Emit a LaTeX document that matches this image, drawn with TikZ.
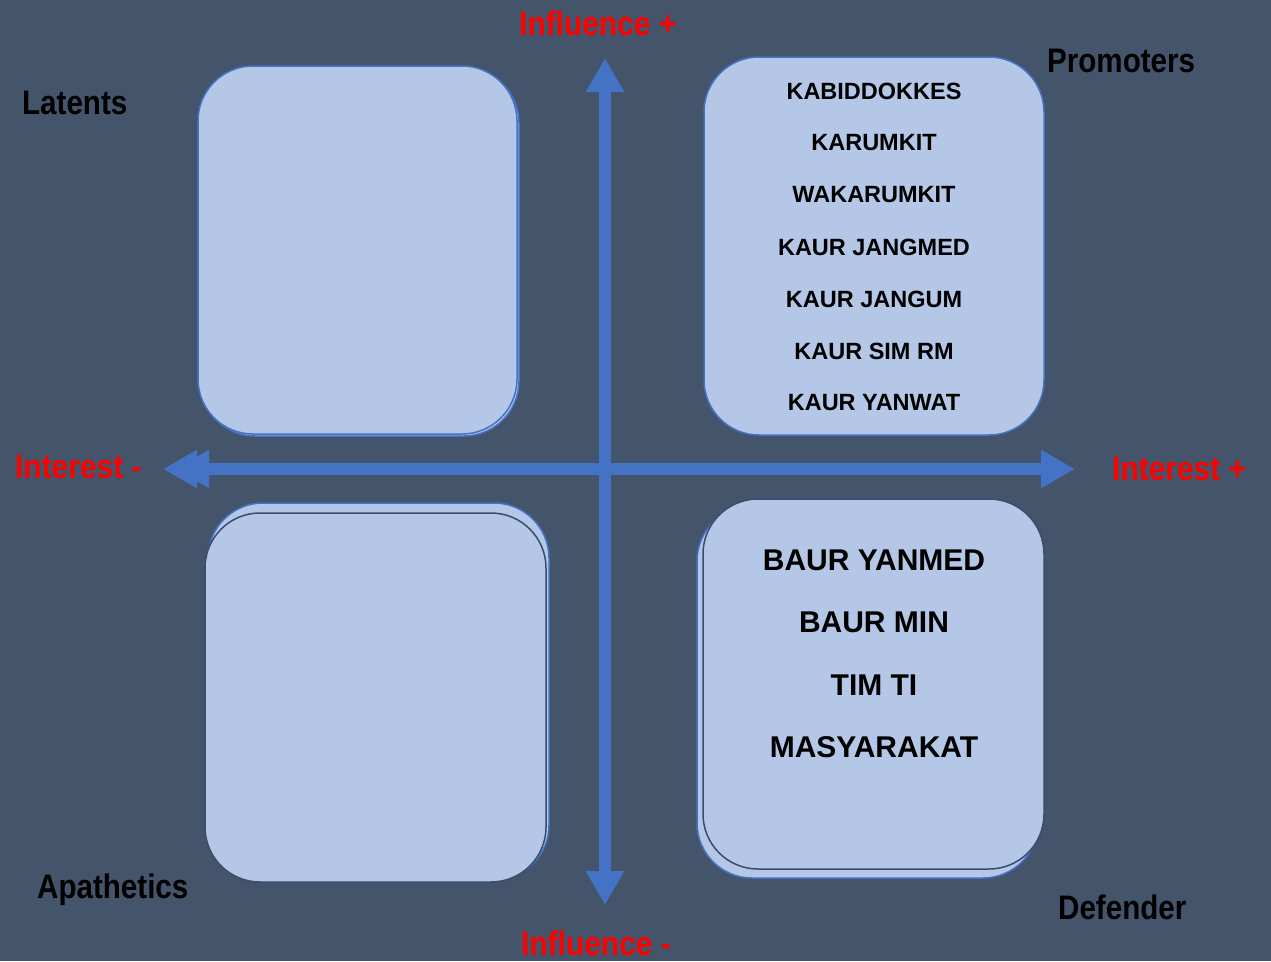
\documentclass[tikz,border=0pt]{standalone}
\usepackage{fontspec}
\setmainfont{Liberation Sans}
\usetikzlibrary{arrows.meta}
\definecolor{bgc}{HTML}{44546A}
\definecolor{boxfill}{HTML}{B4C7E7}
\definecolor{boxedge}{HTML}{4472C4}
\definecolor{inneredge}{HTML}{3B4D6E}
\definecolor{arrowc}{HTML}{4472C4}
\definecolor{redc}{HTML}{FF0000}
\tikzset{
  quadbox/.style={fill=boxfill, draw=boxedge, line width=1.5pt, rounded corners=55pt},
  innerbox/.style={fill=boxfill, draw=inneredge, line width=1.5pt, rounded corners=55pt},
  axis/.style={draw=arrowc, line width=12pt, -{Triangle[length=34pt,width=36pt]}},
  axistwo/.style={draw=arrowc, line width=12pt, {Triangle[length=34pt,width=36pt]}-{Triangle[length=34pt,width=36pt]}},
  redlab/.style={text=redc, font=\bfseries\fontsize{34}{34}\selectfont, inner sep=0pt, xscale=0.88},
  cornerlab/.style={text=black, font=\bfseries\fontsize{34}{34}\selectfont, inner sep=0pt, xscale=0.87},
  smalltxt/.style={text=black, font=\bfseries\fontsize{23.5}{24}\selectfont, inner sep=0pt},
  bigtxt/.style={text=black, font=\bfseries\fontsize{30}{30}\selectfont, inner sep=0pt}
}
\begin{document}
\begin{tikzpicture}[x=1pt,y=-1pt]
\fill[bgc] (0,0) rectangle (1271,961);
\useasboundingbox (0,0) rectangle (1271,961);

% boxes
\draw[quadbox] (200,68) rectangle (519,436);
\draw[quadbox] (198,66) rectangle (517,434);
\draw[quadbox] (704,57) rectangle (1044,435);
\draw[quadbox] (208,503) rectangle (549,880);
\draw[innerbox] (205,513) rectangle (546,882);
\draw[quadbox] (697,506) rectangle (1038,878);
\draw[innerbox] (703,499) rectangle (1044,869);

% axes
\coordinate (vtop) at (605,58);
\coordinate (vbot) at (605,905);
\coordinate (hleft) at (175,469);
\coordinate (hleftb) at (163,469);
\coordinate (hleftc) at (210,469);
\coordinate (hright) at (1075,469);
\draw[axistwo] (vbot) -- (vtop);
\draw[axistwo] (hleft) -- (hright);
\draw[axis] (hleftc) -- (hleftb);

% axis labels
\node[redlab, anchor=west] (infp) at (519,23) {Influence +};
\node[redlab, anchor=west] (infm) at (521,943) {Influence -};
\node[redlab, anchor=west] (intm) at (15,467) {Interest -};
\node[redlab, anchor=west] (intp) at (1112,469) {Interest +};

% corner labels
\node[cornerlab, anchor=west] (lat) at (22,103) {Latents};
\node[cornerlab, anchor=west] (pro) at (1047,61) {Promoters};
\node[cornerlab, anchor=west] (apa) at (37,890) {Apathetics};
\node[cornerlab, anchor=west] (def) at (1058,907) {Defender};

% top-right list
\node[smalltxt] (t1) at (874,91) {KABIDDOKKES};
\node[smalltxt] (t2) at (874,143) {KARUMKIT};
\node[smalltxt] (t3) at (874,195) {WAKARUMKIT};
\node[smalltxt] (t4) at (874,247) {KAUR JANGMED};
\node[smalltxt] (t5) at (874,299) {KAUR JANGUM};
\node[smalltxt] (t6) at (874,351) {KAUR SIM RM};
\node[smalltxt] (t7) at (874,403) {KAUR YANWAT};

% bottom-right list
\node[bigtxt] (b1) at (874,560) {BAUR YANMED};
\node[bigtxt] (b2) at (874,622) {BAUR MIN};
\node[bigtxt] (b3) at (874,685) {TIM TI};
\node[bigtxt] (b4) at (874,747) {MASYARAKAT};
\end{tikzpicture}
\end{document}
